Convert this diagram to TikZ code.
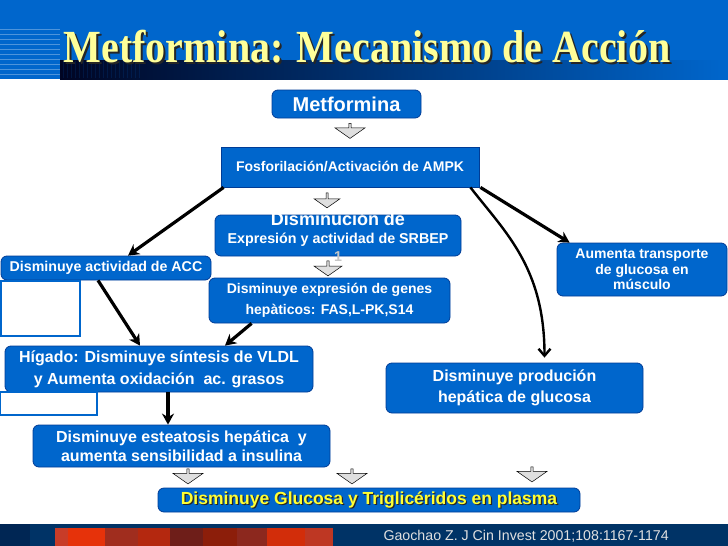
\documentclass[tikz,border=0pt]{standalone}
\usepackage{fontspec}
\setmainfont{Liberation Sans}
\newfontfamily\titlefont{Liberation Serif}
\usetikzlibrary{shapes.arrows,arrows.meta}
\definecolor{boxblue}{RGB}{0,102,204}
\definecolor{boxedge}{RGB}{0,60,150}
\definecolor{headblue}{RGB}{0,102,204}
\definecolor{navy}{RGB}{0,51,102}
\definecolor{navydark}{RGB}{0,38,84}
\definecolor{bandblack}{RGB}{0,5,35}
\definecolor{titleyellow}{RGB}{255,255,153}
\definecolor{plasmayellow}{RGB}{255,255,51}
\definecolor{redA}{RGB}{200,60,40}
\definecolor{redB}{RGB}{230,50,10}
\definecolor{redC}{RGB}{160,45,30}
\definecolor{redD}{RGB}{180,40,15}
\definecolor{redE}{RGB}{110,30,25}
\definecolor{redF}{RGB}{140,30,10}
\definecolor{redG}{RGB}{140,40,30}
\definecolor{redH}{RGB}{210,45,10}
\definecolor{redI}{RGB}{190,55,35}

\begin{document}
\begin{tikzpicture}[x=1pt, y=-1pt,
    box/.style={draw=boxedge, fill=boxblue, line width=0.8pt, rounded corners=6pt,
      text=white, font=\bfseries\fontsize{16}{20.5}\selectfont, align=center, inner sep=0pt},
    blank/.style={draw=boxblue, fill=white, line width=1.2pt, inner sep=0pt},
    hollow/.style={single arrow, draw=black, fill=gray!25, line width=0.5pt,
      shape border rotate=270, single arrow head extend=3pt, single arrow tip angle=110,
      minimum height=15pt, minimum width=30pt, inner sep=0pt},
    link/.style={line width=3.2pt, -{Stealth[length=11pt, width=12pt]}}]

  \useasboundingbox (0,0) rectangle (728,546);

  % header
  \fill[headblue] (0,0) rectangle (728,79);
  \foreach \y in {29,34,...,74} \draw[white, opacity=0.3, line width=0.6pt] (0,\y) -- (60,\y);
  \shade[left color=bandblack, right color=headblue] (60,60) rectangle (728,79);
  \foreach \x in {63,67,...,140} \draw[headblue, opacity=0.15, line width=0.4pt] (\x,61) -- (\x,78);
  \node[text=black!85, inner sep=0pt, font=\titlefont\bfseries\fontsize{40}{40}\selectfont]
    (titleshadow) at (369,49) {\scalebox{1}[1.15]{Metformina: Mecanismo de Acción}};
  \node[text=titleyellow, inner sep=0pt, font=\titlefont\bfseries\fontsize{40}{40}\selectfont]
    (title) at (367,47) {\scalebox{1}[1.15]{Metformina: Mecanismo de Acción}};

  % footer
  \fill[navy] (0,524) rectangle (728,546);
  \fill[navydark] (0,524) rectangle (30,546);
  \foreach \xa/\xb/\c in {55/68/redA, 68/105/redB, 105/138/redC, 138/170/redD, 170/203/redE,
      203/237/redF, 237/267/redG, 267/305/redH, 305/333/redI}
    \fill[\c] (\xa,528) rectangle (\xb,546);
  \node[text=white!88!black, anchor=west, font=\fontsize{14.2}{16}\selectfont]
    (cite) at (380,536) {Gaochao Z. J Cin Invest 2001;108:1167-1174};

  % boxes
  \node[box, minimum width=149pt, minimum height=28pt, font=\bfseries\fontsize{20}{22}\selectfont]
    (met) at (346.5,104) {Metformina};
  \node[hollow] (ha1) at (350,130.5) {};
  \node[box, sharp corners, minimum width=258pt, minimum height=40pt,
    font=\bfseries\fontsize{14}{16}\selectfont] (ampk) at (350,167) {Fosforilación/Activación de AMPK};
  \node[hollow, minimum width=26pt] (ha2) at (327,200) {};

  \node[box, minimum width=246pt, minimum height=41pt] (srbep) at (338,235.5) {};
  \node[text=white, font=\bfseries\fontsize{18}{20}\selectfont] (srbep1) at (338,219) {Disminución de};
  \node[text=white, font=\bfseries\fontsize{14.3}{16}\selectfont] (srbep2) at (338,240) {Expresión y actividad de SRBEP};
  \node[text=gray!45, font=\bfseries\fontsize{14.3}{16}\selectfont] (srbep3) at (338,257) {1};
  \node[hollow, minimum width=28pt] (ha3) at (328,268) {};

  \node[box, minimum width=241pt, minimum height=45pt, font=\bfseries\fontsize{14}{20.5}\selectfont]
    (genes) at (329.5,300.5) {Disminuye expresión de genes\\hepàticos: FAS,L-PK,S14};
  \node[box, minimum width=210pt, minimum height=24pt, font=\bfseries\fontsize{14.2}{16}\selectfont]
    (acc) at (106,268) {Disminuye actividad de ACC};
  \node[blank, minimum width=79pt, minimum height=55pt] (accnote) at (40.5,308.5) {};

  \node[box, minimum width=308pt, minimum height=46pt, font=\bfseries\fontsize{16}{22}\selectfont]
    (higado) at (159,369) {Hígado: Disminuye síntesis de VLDL\\y Aumenta oxidación\ \ ac. grasos};
  \node[blank, minimum width=97pt, minimum height=23pt] (hignote) at (48.5,403.5) {};
  \node[box, minimum width=297pt, minimum height=42pt, font=\bfseries\fontsize{16}{19.5}\selectfont]
    (esteat) at (181.5,446) {Disminuye esteatosis hepática\ \ y\\aumenta sensibilidad a insulina};
  \node[box, minimum width=257pt, minimum height=50pt] (produc) at (514.5,388)
    {Disminuye produción\\hepática de glucosa};
  \node[box, minimum width=170pt, minimum height=53pt, font=\bfseries\fontsize{14}{15.5}\selectfont]
    (musculo) at (642,269.5) {Aumenta transporte\\de glucosa en\\músculo};

  \node[hollow] (ha4) at (188,476) {};
  \node[hollow] (ha5) at (352,476) {};
  \node[hollow] (ha6) at (532,474) {};
  \node[box, minimum width=422pt, minimum height=24pt] (plasma) at (369,500) {};
  \node[text=black!85, font=\bfseries\fontsize{17.5}{19}\selectfont]
    (plasmashadow) at (370.2,501.2) {Disminuye Glucosa y Triglicéridos en plasma};
  \node[text=plasmayellow, font=\bfseries\fontsize{17.5}{19}\selectfont]
    (plasmatext) at (369,500) {Disminuye Glucosa y Triglicéridos en plasma};

  % arrows
  \draw[link] ([xshift=3pt]ampk.south west) -- ([xshift=22pt]acc.north);
  \draw[link] ([xshift=-8pt]acc.south) -- ([xshift=-19pt]higado.north);
  \draw[link] ([xshift=43pt]genes.south west) -- ([xshift=66pt]higado.north);
  \draw[link] ([xshift=9pt]higado.south) -- ([xshift=-13.5pt]esteat.north);
  \draw[link] ([xshift=1pt]ampk.south east) -- ([xshift=13pt]musculo.north west);
  \draw[line width=2.4pt, -{Straight Barb[length=7pt, width=12pt]}]
    ([xshift=-9pt]ampk.south east) .. controls +(35,45) and +(0,-90) .. ([xshift=30pt, yshift=5pt]produc.north);

\end{tikzpicture}
\end{document}
